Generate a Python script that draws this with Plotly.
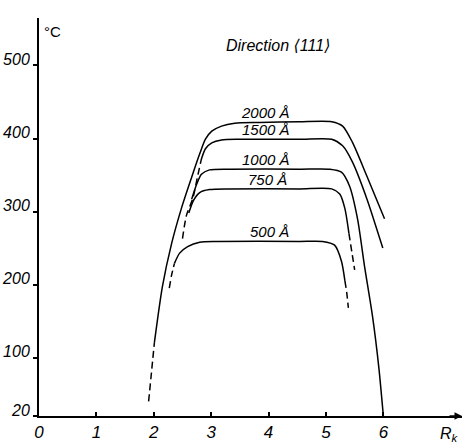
import plotly.graph_objects as go

# ---- data ----
x_ticks = [0, 1, 2, 3, 4, 5, 6]
y_ticks = [20, 100, 200, 300, 400, 500]
y_tick_text = ["20", "100", "200", "300", "400", "500"]

# 2000 A
x2000_dash = [1.91, 1.96, 2.01]
T2000_dash = [40, 80, 120]
x2000 = [2.01, 2.15, 2.31, 2.48, 2.66, 2.80, 2.90, 3.01, 3.18, 3.41, 3.84, 4.54, 5.10, 5.29, 5.46, 5.71, 6.02]
T2000 = [120, 197, 256, 304, 347, 379, 399, 410, 417, 421, 422, 423, 423, 417, 395, 349, 290]

# 1500 A
x1500_dash = [2.50, 2.57, 2.68, 2.76, 2.83]
T1500_dash = [263, 295, 318, 347, 372]
x1500 = [2.83, 2.90, 3.01, 3.18, 3.49, 4.54, 5.10, 5.29, 5.46, 5.71, 5.99]
T1500 = [372, 386, 394, 398, 399, 399, 399, 390, 368, 318, 250]

# 1000 A
x1000 = [2.66, 2.75, 2.83, 2.97, 3.32, 4.54, 5.07, 5.27, 5.41, 5.55, 5.67, 5.81, 5.92, 6.00]
T1000 = [317, 338, 351, 357, 358, 358, 358, 354, 335, 290, 226, 157, 87, 20]

# 750 A
x750 = [2.61, 2.69, 2.80, 2.97, 3.32, 4.54, 5.10, 5.24, 5.33, 5.40]
T750 = [298, 315, 326, 330, 331, 331, 331, 324, 304, 270]
x750_dash = [5.40, 5.45, 5.50]
T750_dash = [270, 245, 220]

# 500 A
x500_dash_left = [2.27, 2.31, 2.36]
T500_dash_left = [195, 213, 229]
x500 = [2.36, 2.45, 2.59, 2.80, 3.11, 4.54, 4.94, 5.15, 5.27, 5.33]
T500 = [229, 243, 252, 258, 259, 259, 259, 254, 232, 205]
x500_dash_right = [5.33, 5.36, 5.39]
T500_dash_right = [205, 190, 168]

labels = ["2000 Å", "1500 Å", "1000 Å", "750 Å", "500 Å"]
label_x = [3.95, 3.95, 3.95, 3.98, 4.02]
label_T = [423, 399, 358, 331, 259]

fig = go.Figure()

def add(xs, ys, dash="solid"):
    fig.add_trace(go.Scatter(
        x=xs, y=ys, mode="lines",
        line=dict(color="black", width=1.5, dash=dash, shape="spline", smoothing=0.7),
        showlegend=False, hoverinfo="skip"))

DASH = "7px,4px"
add(x2000_dash, T2000_dash, DASH)
add(x2000, T2000)
add(x1500_dash, T1500_dash, DASH)
add(x1500, T1500)
add(x1000, T1000)
add(x750, T750)
add(x750_dash, T750_dash, DASH)
add(x500_dash_left, T500_dash_left, DASH)
add(x500, T500)
add(x500_dash_right, T500_dash_right, DASH)

FONT = "Liberation Sans, DejaVu Sans, Arial, sans-serif"

for txt, lx, lt in zip(labels, label_x, label_T):
    fig.add_annotation(x=lx, y=lt, text=f"<i>{txt}</i>", showarrow=False,
                       xanchor="center", yanchor="bottom", yshift=-1,
                       font=dict(family=FONT, size=15, color="black"))

fig.add_annotation(x=4.17, y=528,
                   text="<i>Direction ⟨111⟩</i>",
                   showarrow=False, xanchor="center", yanchor="middle",
                   font=dict(family=FONT, size=16, color="black"))

fig.add_annotation(xref="paper", yref="paper", x=0.033, y=0.965, text="°C",
                   showarrow=False, xanchor="center", yanchor="middle",
                   font=dict(family=FONT, size=15, color="black"))

fig.add_annotation(xref="paper", yref="paper", x=0.97, y=-0.047, text="<i>R<sub>k</sub></i>",
                   showarrow=False, xanchor="center", yanchor="middle",
                   font=dict(family=FONT, size=16, color="black"))

# arrow head on x axis
fig.add_annotation(xref="paper", yref="paper", x=1.0, y=0.0, ax=-14, ay=0,
                   text="", showarrow=True, arrowhead=2, arrowsize=1, arrowwidth=1.5,
                   arrowcolor="black")

fig.update_layout(
    width=464, height=444,
    margin=dict(l=39, r=2, t=18, b=25),
    paper_bgcolor="white", plot_bgcolor="white",
    font=dict(family=FONT, color="black"),
)
fig.update_xaxes(range=[0, 7.37], showgrid=False, zeroline=False,
                 showline=True, linecolor="black", linewidth=2,
                 tickvals=x_ticks, ticktext=[f"<i>{v}</i>" for v in x_ticks],
                 ticks="inside", ticklen=4, tickwidth=1.5, tickcolor="black",
                 tickfont=dict(family=FONT, size=17))
fig.update_yaxes(range=[20, 565], showgrid=False, zeroline=False,
                 showline=True, linecolor="black", linewidth=2,
                 tickvals=y_ticks, ticktext=[f"<i>{t}</i>" for t in y_tick_text],
                 ticks="outside", ticklen=4, tickwidth=1.5, tickcolor="black",
                 ticklabelshift=-6,
                 tickfont=dict(family=FONT, size=16))

fig.write_html("out.html")
